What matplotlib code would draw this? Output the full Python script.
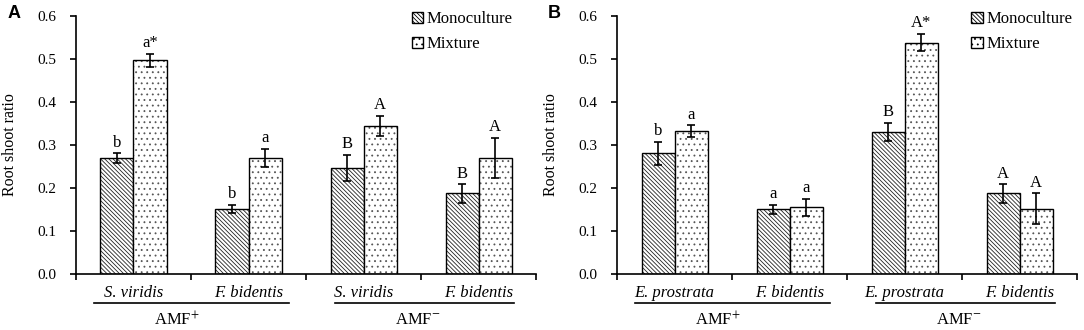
import numpy as np
import matplotlib
matplotlib.use('Agg')
import matplotlib.pyplot as plt
import matplotlib.transforms as mtransforms
from matplotlib.patches import Patch


plt.rcParams['font.family'] = ['Liberation Serif', 'DejaVu Serif']
plt.rcParams['mathtext.fontset'] = 'stix'
plt.rcParams['hatch.linewidth'] = 0.6

# panel A data
species_a = ['S. viridis', 'F. bidentis', 'S. viridis', 'F. bidentis']
mono_a = [0.269, 0.151, 0.246, 0.187]
mono_a_err = [0.011, 0.010, 0.031, 0.021]
mix_a = [0.496, 0.269, 0.344, 0.269]
mix_a_err = [0.015, 0.021, 0.024, 0.047]
mono_a_sig = ['b', 'b', 'B', 'B']
mix_a_sig = ['a*', 'a', 'A', 'A']

# panel B data
species_b = ['E. prostrata', 'F. bidentis', 'E. prostrata', 'F. bidentis']
mono_b = [0.280, 0.150, 0.330, 0.187]
mono_b_err = [0.027, 0.010, 0.021, 0.021]
mix_b = [0.332, 0.155, 0.537, 0.151]
mix_b_err = [0.013, 0.020, 0.020, 0.036]
mono_b_sig = ['b', 'a', 'B', 'A']
mix_b_sig = ['a', 'a', 'A*', 'A']

groups = ['AMF$^{+}$', 'AMF$^{-}$']
series = ['Monoculture', 'Mixture']
yticks = [0.0, 0.1, 0.2, 0.3, 0.4, 0.5, 0.6]

MONO_HATCH = '\\' * 8
MIX_HATCH = '...'


def hatched_bars(ax, xs, vals, errs, w, hatch, hcolor):
    # hatch layer first (hatch takes the edge colour), black outline on top
    ax.bar(xs, vals, w, color='white', edgecolor=hcolor, linewidth=0, hatch=hatch)
    ax.bar(xs, vals, w, yerr=errs, capsize=3, fill=False, edgecolor='black',
           linewidth=1.0, error_kw=dict(elinewidth=1.2, capthick=1.2, ecolor='black'))


def panel(ax, species, mono, mono_err, mix, mix_err, mono_sig, mix_sig, leg_x):
    x = np.arange(len(species))
    w = 0.287
    hatched_bars(ax, x - w / 2, mono, mono_err, w, MONO_HATCH, '#222222')
    hatched_bars(ax, x + w / 2, mix, mix_err, w, MIX_HATCH, '#555555')

    for xi, v, e, s in zip(x - w / 2, mono, mono_err, mono_sig):
        ax.annotate(s, (xi, v + e), xytext=(0, 2), textcoords='offset points',
                    ha='center', va='bottom', fontsize=12)
    for xi, v, e, s in zip(x + w / 2, mix, mix_err, mix_sig):
        ax.annotate(s, (xi, v + e), xytext=(0, 2), textcoords='offset points',
                    ha='center', va='bottom', fontsize=12)

    ax.set_xlim(-0.5, 3.5)
    ax.set_ylim(0, 0.6)
    ax.set_yticks(yticks)
    ax.set_yticklabels(['%.1f' % t for t in yticks], fontsize=11)
    ax.set_xticks([-0.5, 0.5, 1.5, 2.5, 3.5])
    ax.set_xticklabels([])
    ax.tick_params(axis='both', direction='out', length=4, width=1.2)
    ax.tick_params(axis='y', pad=10)
    for side in ['top', 'right']:
        ax.spines[side].set_visible(False)
    for side in ['left', 'bottom']:
        ax.spines[side].set_linewidth(1.2)
    ax.set_ylabel('Root shoot ratio', fontsize=11.5)
    ax.yaxis.set_label_coords(-0.127, 0.5)

    trans = mtransforms.blended_transform_factory(ax.transData, ax.transAxes)
    for xi, name in zip(x, species):
        ax.text(xi, -0.075, name, transform=trans, ha='center', va='center',
                fontsize=12, style='italic')
    for (x0, x1), xt, g in zip([(-0.34, 1.35), (1.75, 3.31)], [0.38, 2.47], groups):
        ax.plot([x0, x1], [-0.112, -0.112], transform=trans, color='black',
                lw=1.2, clip_on=False)
        ax.text(xt, -0.18, g, transform=trans, ha='center', va='center', fontsize=12)

    handles = [Patch(facecolor='white', edgecolor='black', linewidth=1.0,
                     hatch=MONO_HATCH, label=series[0]),
               Patch(facecolor='white', edgecolor='black', linewidth=1.0,
                     hatch=MIX_HATCH, label=series[1])]
    ax.legend(handles=handles, loc='upper left', bbox_to_anchor=(leg_x, 1.017),
              frameon=False, fontsize=12, handlelength=0.7, handleheight=0.7,
              handletextpad=0.2, labelspacing=0.55, borderpad=0, borderaxespad=0)


fig = plt.figure(figsize=(10.84, 3.3), dpi=100)
ax1 = fig.add_axes([0.0701, 0.1697, 0.4244, 0.7827])
ax2 = fig.add_axes([0.5692, 0.1697, 0.4244, 0.7827])

panel(ax1, species_a, mono_a, mono_a_err, mix_a, mix_a_err, mono_a_sig, mix_a_sig, 0.73)
panel(ax2, species_b, mono_b, mono_b_err, mix_b, mix_b_err, mono_b_sig, mix_b_sig, 0.77)

for xf, letter in [(8 / 1084, 'A'), (548 / 1084, 'B')]:
    fig.text(xf, 1 - 14 / 330, letter, fontsize=13, fontweight='bold',
             family='Liberation Sans', ha='left', va='center')

fig.savefig('out.png', dpi=100)
plt.close()
